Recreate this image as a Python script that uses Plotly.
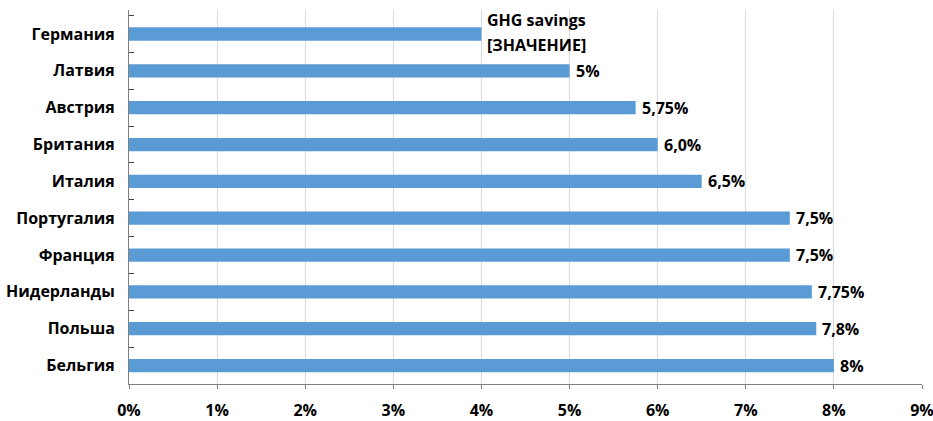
import plotly.graph_objects as go

countries = ["Германия", "Латвия", "Австрия", "Британия", "Италия",
             "Португалия", "Франция", "Нидерланды", "Польша", "Бельгия"]
savings = [4.0, 5.0, 5.75, 6.0, 6.5, 7.5, 7.5, 7.75, 7.8, 8.0]
value_labels = ["", "5%", "5,75%", "6,0%", "6,5%", "7,5%", "7,5%", "7,75%", "7,8%", "8%"]
first_label = ["GHG savings", "[ЗНАЧЕНИЕ]"]
x_ticks = [0, 1, 2, 3, 4, 5, 6, 7, 8, 9]
x_tick_text = [f"{t}%" for t in x_ticks]

FONT = "Open Sans"
SIZE = 16
BLUE = "#5b9bd5"

fig = go.Figure(go.Bar(
    x=savings, y=countries, orientation="h",
    marker=dict(color=BLUE, line=dict(width=0)),
    width=0.36,
))

# value labels just right of each bar end
for c, v, lab in zip(countries, savings, value_labels):
    if lab:
        fig.add_annotation(
            x=v, y=c, xref="x", yref="y", text=f"<b>{lab}</b>",
            showarrow=False, xanchor="left", yanchor="middle", xshift=4,
            font=dict(family=FONT, size=SIZE, color="#000000"),
        )

# two-line label on the first bar
for i, line in enumerate(first_label):
    fig.add_annotation(
        x=savings[0], y=countries[0], xref="x", yref="y",
        text=f"<b>{line}</b>", showarrow=False,
        xanchor="left", yanchor="middle", xshift=4, yshift=14 - 25 * i,
        font=dict(family=FONT, size=SIZE, color="#000000"),
    )

fig.update_layout(
    width=933, height=421,
    margin=dict(l=129, r=11, t=10, b=37, autoexpand=False),
    paper_bgcolor="white", plot_bgcolor="white",
    showlegend=False,
    font=dict(family=FONT, size=SIZE, color="#000000"),
    bargap=0.64,
)
fig.update_xaxes(
    range=[0, 9], tickvals=x_ticks, ticktext=[f"<b>{t}</b>" for t in x_tick_text],
    showgrid=True, gridcolor="#d9d9d9", gridwidth=1,
    showline=True, linecolor="#7f7f7f", linewidth=1,
    ticks="outside", ticklen=4, tickcolor="#7f7f7f",
    ticklabelstandoff=8, zeroline=False, automargin=False,
    ticklabeloverflow="allow",
    tickfont=dict(family=FONT, size=SIZE, color="#000000"),
)
fig.update_yaxes(
    autorange="reversed", categoryorder="array", categoryarray=countries,
    tickvals=countries, ticktext=[f"<b>{c}</b>" for c in countries],
    showline=True, linecolor="#7f7f7f", linewidth=1,
    ticks="inside", tickson="boundaries", ticklen=5, tickcolor="#404040",
    ticklabelstandoff=10, automargin=False, ticklabeloverflow="allow",
    tickfont=dict(family=FONT, size=SIZE, color="#000000"),
)

fig.write_html("out.html")
